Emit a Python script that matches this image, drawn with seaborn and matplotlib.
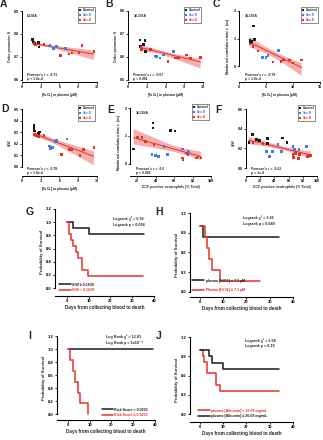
import matplotlib
matplotlib.use("Agg")
import numpy as np
import pandas as pd
import seaborn as sns
import matplotlib.pyplot as plt

# ---------------- data ----------------
GROUPS = ["Control", "Sev-R", "Sev-D"]

A_ctrl_x = [1.7, 1.8, 2.1, 2.6, 2.7]
A_ctrl_y = [0.775, 0.765, 0.760, 0.762, 0.742]
A_sevr_x = [4.3, 4.5, 5.0, 5.5, 7.0]
A_sevr_y = [0.748, 0.752, 0.735, 0.745, 0.735]
A_sevd_x = [1.9, 2.2, 3.5, 6.2, 7.5, 8.0, 9.1, 9.6, 11.5]
A_sevd_y = [0.758, 0.752, 0.755, 0.705, 0.712, 0.716, 0.717, 0.750, 0.724]

B_ctrl_x = [1.9, 2.0, 2.5, 2.7, 2.8]
B_ctrl_y = [0.673, 0.644, 0.654, 0.670, 0.622]
B_sevr_x = [4.4, 4.6, 5.1, 5.7, 7.3]
B_sevr_y = [0.604, 0.601, 0.594, 0.608, 0.623]
B_sevd_x = [2.1, 2.2, 3.6, 6.4, 7.6, 8.1, 9.4, 10.0, 11.6]
B_sevd_y = [0.641, 0.633, 0.633, 0.579, 0.594, 0.594, 0.608, 0.594, 0.597]

C_ctrl_x = [2.0, 2.1, 2.4, 2.7, 2.9]
C_ctrl_y = [0.95, 0.85, 0.90, 1.46, 0.97]
C_sevr_x = [4.3, 5.0, 5.4, 7.3]
C_sevr_y = [0.32, 0.30, 0.38, 0.56]
C_sevd_x = [2.0, 2.6, 3.5, 6.3, 7.8, 8.2, 9.3, 10.0, 11.6]
C_sevd_y = [0.80, 0.71, 0.54, 0.14, 0.17, 0.22, 0.22, 0.11, 0.22]

D_ctrl_x = [1.9, 1.9, 2.0, 2.8, 2.6]
D_ctrl_y = [0.36, 0.33, 0.31, 0.30, 0.29]
D_sevr_x = [4.4, 4.6, 4.9, 5.5, 5.4, 7.2]
D_sevr_y = [0.18, 0.16, 0.17, 0.23, 0.22, 0.24]
D_sevd_x = [2.0, 2.3, 2.6, 3.5, 6.3, 7.5, 7.9, 9.3, 9.8, 11.5]
D_sevd_y = [0.28, 0.27, 0.265, 0.27, 0.11, 0.15, 0.15, 0.10, 0.15, 0.17]

E_ctrl_x = [16, 37, 37, 56, 61]
E_ctrl_y = [0.54, 1.46, 1.29, 1.19, 1.18]
E_sevr_x = [36, 40, 43, 49, 53, 69, 75, 76]
E_sevr_y = [0.33, 0.30, 0.27, 0.62, 0.33, 0.54, 0.45, 0.41]
E_sevd_x = [20, 25, 29, 38, 69, 69.5, 73, 74, 75, 84, 86, 89]
E_sevd_y = [0.95, 0.95, 0.81, 0.69, 0.21, 0.14, 0.39, 0.36, 0.33, 0.21, 0.25, 0.21]

F_ctrl_x = [4, 9, 14.5, 19, 30, 30, 51, 58]
F_ctrl_y = [0.26, 0.34, 0.29, 0.28, 0.30, 0.25, 0.305, 0.26]
F_sevr_x = [28.6, 33.4, 37, 45, 49.7, 66, 68.5, 74.6, 85]
F_sevr_y = [0.17, 0.12, 0.17, 0.24, 0.17, 0.22, 0.19, 0.19, 0.22]
F_sevd_x = [10, 24, 66, 67, 70, 74, 75, 87, 91]
F_sevd_y = [0.26, 0.25, 0.14, 0.11, 0.15, 0.10, 0.14, 0.12, 0.13]

# Kaplan-Meier curves (time, survival)
G_hi_t = [0, 3, 10, 35.5]
G_hi_s = [1.0, 0.909, 0.818, 0.818]
G_lo_t = [0, 1, 2, 3, 4, 5, 7, 9.5, 34.8]
G_lo_s = [1.0, 0.818, 0.727, 0.636, 0.545, 0.455, 0.273, 0.182, 0.182]

H_lo_t = [0, 1.1, 34]
H_lo_s = [1.0, 0.833, 0.833]
H_hi_t = [0, 2.2, 3.2, 4.0, 5.0, 8.6, 26]
H_hi_s = [1.0, 0.833, 0.667, 0.5, 0.333, 0.167, 0.167]

I_lo_t = [0, 39]
I_lo_s = [1.0, 1.0]
I_hi_t = [0, 1.2, 2.3, 3.3, 4.9, 5.6, 9.4]
I_hi_s = [1.0, 0.833, 0.667, 0.5, 0.333, 0.167, 0.0]

J_hi_t = [0, 4.0, 5.0, 9.8, 34]
J_hi_s = [1.0, 0.9, 0.8, 0.7, 0.7]
J_lo_t = [0, 1.15, 1.9, 2.9, 6.9, 8.6, 34]
J_lo_s = [1.0, 0.909, 0.818, 0.636, 0.455, 0.364, 0.364]

# ---------------- style ----------------
sns.set_theme(style="ticks")
plt.rcParams["font.family"] = ["Liberation Sans", "DejaVu Sans"]
plt.rcParams["font.weight"] = "bold"
plt.rcParams["axes.labelweight"] = "bold"
plt.rcParams["mathtext.default"] = "regular"

BLACK = "#1a1a1a"
BLUE = "#3d7ee6"
RED = "#e8302a"
BAND = "#f29a96"

W, H = 323, 440
fig = plt.figure(figsize=(W / 100, H / 100), dpi=100)
fig.patch.set_facecolor("white")


def add_ax(l, t, r, b):
    return fig.add_axes([l / W, 1 - b / H, (r - l) / W, (b - t) / H])


def ftext(x, y, s, **kw):
    fig.text(x / W, 1 - y / H, s, **kw)


def style_axes(ax, lw=0.7, fs=2.6):
    sns.despine(ax=ax)
    for sp in ("left", "bottom"):
        ax.spines[sp].set_linewidth(lw)
        ax.spines[sp].set_color("black")
    ax.tick_params(axis="both", labelsize=fs, length=1.5, width=lw * 0.8,
                   pad=0.8, colors="black")
    for lab in ax.get_xticklabels() + ax.get_yticklabels():
        lab.set_fontweight("bold")
    ax.set_facecolor("none")


def scatter_panel(box, cx, cy, rx, ry, dx, dy, xlim, ylim, xticks, yticks,
                  yfmt, xlabel, ylabel, title, rtxt, ptxt):
    ax = add_ax(*box)
    df = pd.DataFrame({
        "x": cx + rx + dx,
        "y": cy + ry + dy,
        "g": ["Control"] * len(cx) + ["Sev-R"] * len(rx) + ["Sev-D"] * len(dx),
    })
    sns.regplot(data=df, x="x", y="y", scatter=False, ax=ax, color=RED,
                ci=95, seed=1, line_kws=dict(lw=0.7))
    for coll in ax.collections:
        coll.set_facecolor(BAND)
        coll.set_alpha(0.8)
        coll.set_edgecolor("none")
    sns.scatterplot(data=df, x="x", y="y", hue="g", hue_order=GROUPS,
                    palette=[BLACK, BLUE, RED], marker="s", s=3.5,
                    linewidth=0, ax=ax, legend=True, zorder=3)
    sns.move_legend(ax, "upper right", title=None, fontsize=2.3,
                    frameon=True, fancybox=False, edgecolor="black",
                    borderpad=0.35, handletextpad=0.2, labelspacing=0.25,
                    handlelength=1.0, markerscale=0.8,
                    labelcolor=[BLACK, BLUE, RED],
                    bbox_to_anchor=(1.0, 1.08))
    leg = ax.get_legend()
    leg.get_frame().set_linewidth(0.4)
    for t in leg.get_texts():
        t.set_fontweight("bold")
    ax.set_xlim(*xlim)
    ax.set_ylim(*ylim)
    ax.set_xticks(xticks)
    ax.set_yticks(yticks)
    ax.set_yticklabels([yfmt.format(v) for v in yticks])
    ax.set_xticklabels([str(v) for v in xticks])
    ax.spines["left"].set_bounds(yticks[0], yticks[-1])
    ax.set_xlabel(xlabel, fontsize=2.5, labelpad=1.0)
    ax.set_ylabel(ylabel, fontsize=2.5, labelpad=1.0)
    style_axes(ax)
    if title:
        ax.text(0.07, 0.93, title, transform=ax.transAxes, fontsize=2.6,
                fontweight="bold", va="center", ha="left")
    ax.text(0.07, 0.10, rtxt, transform=ax.transAxes, fontsize=2.4,
            fontweight="bold", va="center", ha="left")
    ax.text(0.07, 0.04, ptxt, transform=ax.transAxes, fontsize=2.4,
            fontweight="bold", va="center", ha="left")
    return ax


HLAB = "[H$_2$O$_2$] in plasma (μM)"
DLAB = "DCF-positive neutrophils (% Total)"
TAU = "Rotational correlation time τ$_c$ (ns)"

scatter_panel((22, 11, 97, 82), A_ctrl_x, A_ctrl_y, A_sevr_x, A_sevr_y,
              A_sevd_x, A_sevd_y, (0, 12), (0.59, 0.9), [0, 3, 6, 9, 12],
              [0.6, 0.7, 0.8, 0.9], "{:.1f}", HLAB, "Order parameter S",
              "5-DSA", "Pearson's r = -0.71", "p < 1.0e-4")
scatter_panel((128, 11, 203, 82), B_ctrl_x, B_ctrl_y, B_sevr_x, B_sevr_y,
              B_sevd_x, B_sevd_y, (0, 12), (0.49, 0.8), [0, 3, 6, 9, 12],
              [0.5, 0.6, 0.7, 0.8], "{:.1f}", HLAB, "Order parameter S",
              "16-DSA", "Pearson's r = -0.67", "p < 0.001")
scatter_panel((239, 11, 320, 82), C_ctrl_x, C_ctrl_y, C_sevr_x, C_sevr_y,
              C_sevd_x, C_sevd_y, (0, 15), (-0.58, 2.0), [0, 5, 10, 15],
              [0, 1, 2], "{:d}", HLAB, TAU,
              "16-DSA", "Pearson's r = -0.79", "p < 1.0e-4")
scatter_panel((22, 109, 97, 176), D_ctrl_x, D_ctrl_y, D_sevr_x, D_sevr_y,
              D_sevd_x, D_sevd_y, (0, 12), (-0.078, 0.5), [0, 3, 6, 9, 12],
              [0.0, 0.1, 0.2, 0.3, 0.4, 0.5], "{:.1f}", HLAB, "S/W",
              None, "Pearson's r = -0.78", "p < 1.0e-4")
scatter_panel((130, 108, 211, 176), E_ctrl_x, E_ctrl_y, E_sevr_x, E_sevr_y,
              E_sevd_x, E_sevd_y, (12, 100), (-0.43, 2.0),
              [20, 40, 60, 80, 100], [0, 1, 2], "{:d}", DLAB, TAU,
              "16-DSA", "Pearson's r = -0.6", "p < 0.001")
scatter_panel((246, 109, 317, 176), F_ctrl_x, F_ctrl_y, F_sevr_x, F_sevr_y,
              F_sevd_x, F_sevd_y, (0, 100), (-0.08, 0.6),
              [0, 20, 40, 60, 80, 100], [0.0, 0.2, 0.4, 0.6], "{:.1f}",
              DLAB, "S/W", None, "Pearson's r = -0.62", "p = 1e-4")


def km_panel(box, curves, xlim, ylim, yticks, leg_xy, leg_loc, stat1, stat2,
             stat_xy):
    ax = add_ax(*box)
    for t, s, color, label in curves:
        sns.lineplot(x=t, y=s, drawstyle="steps-post", color=color, lw=1.1,
                     ax=ax, label=label, estimator=None, sort=False)
    handles, labels = ax.get_legend_handles_labels()
    ax.legend(handles, labels, loc=leg_loc,
              bbox_to_anchor=(leg_xy[0] / W, 1 - leg_xy[1] / H),
              bbox_transform=fig.transFigure, frameon=False, fontsize=2.6,
              handlelength=3.2, handletextpad=0.3, labelspacing=0.35,
              borderpad=0, borderaxespad=0, labelcolor="linecolor",
              prop={"weight": "bold", "size": 2.6})
    ax.set_xlim(*xlim)
    ax.set_ylim(*ylim)
    ax.set_xticks([0, 10, 20, 30, 40])
    ax.set_yticks(yticks)
    ax.set_yticklabels(["{:.1f}".format(v) for v in yticks])
    ax.spines["left"].set_bounds(yticks[0], yticks[-1])
    ax.set_xlabel("Days from collecting blood to death", fontsize=3.3,
                  labelpad=1.5)
    ax.set_ylabel("Probability of Survival", fontsize=3.1, labelpad=1.5)
    style_axes(ax, lw=0.8, fs=3.0)
    ftext(stat_xy[0], stat_xy[1], stat1, fontsize=2.7, fontweight="bold",
          va="center", ha="left")
    ftext(stat_xy[0], stat_xy[1] + 5.5, stat2, fontsize=2.7,
          fontweight="bold", va="center", ha="left")
    return ax


km_panel((55, 209, 154, 296),
         [(G_hi_t, G_hi_s, BLACK, "S/W ≥ 0.1639"),
          (G_lo_t, G_lo_s, RED, "S/W < 0.1639")],
         (-5.5, 40), (-0.12, 1.2), [0.0, 0.2, 0.4, 0.6, 0.8, 1.0, 1.2],
         (59, 292), "lower left", "Logrank χ² = 6.95",
         "Logrank p = 0.008", (113, 219))

km_panel((190, 213, 293, 297),
         [(H_lo_t, H_lo_s, BLACK, "plasma [H$_2$O$_2$] < 7.1 μM"),
          (H_hi_t, H_hi_s, RED, "Plasma [H$_2$O$_2$] ≥ 7.1 μM")],
         (-4.3, 40), (-0.076, 1.2), [0.0, 0.3, 0.6, 0.9, 1.2],
         (192, 294), "lower left", "Logrank χ² = 3.85",
         "Logrank p = 0.049", (243, 218))

km_panel((57, 336, 155, 420),
         [(I_lo_t, I_lo_s, BLACK, "Risk Score < 0.0253"),
          (I_hi_t, I_hi_s, RED, "Risk Score ≥ 0.0253")],
         (-4.9, 40), (-0.087, 1.2), [0.0, 0.2, 0.4, 0.6, 0.8, 1.0, 1.2],
         (148, 417), "lower right", "Log Rank χ² = 12.01",
         "Log Rank p = 5x10⁻⁴", (106, 337))

km_panel((190, 337, 293, 422),
         [(J_lo_t, J_lo_s, RED, "plasma [Albumin] < 26.69 mg/mL"),
          (J_hi_t, J_hi_s, BLACK, "plasma [Albumin] ≥ 26.69 mg/mL")],
         (-4.3, 40), (-0.12, 1.2), [0.0, 0.3, 0.6, 0.9, 1.2],
         (198, 418), "lower left", "Logrank χ² = 2.68",
         "Logrank p = 0.10", (245, 341))

# panel letters
for letter, x, y in [("A", 0, 4), ("B", 105, 4), ("C", 213, 4),
                     ("D", 1, 109), ("E", 107, 110), ("F", 215, 110),
                     ("G", 26, 212), ("H", 155, 212), ("I", 28, 336),
                     ("J", 156, 336)]:
    ftext(x, y, letter, fontsize=7.5, fontweight="bold", va="center",
          ha="left")

fig.savefig("out.png", dpi=100, facecolor="white")
